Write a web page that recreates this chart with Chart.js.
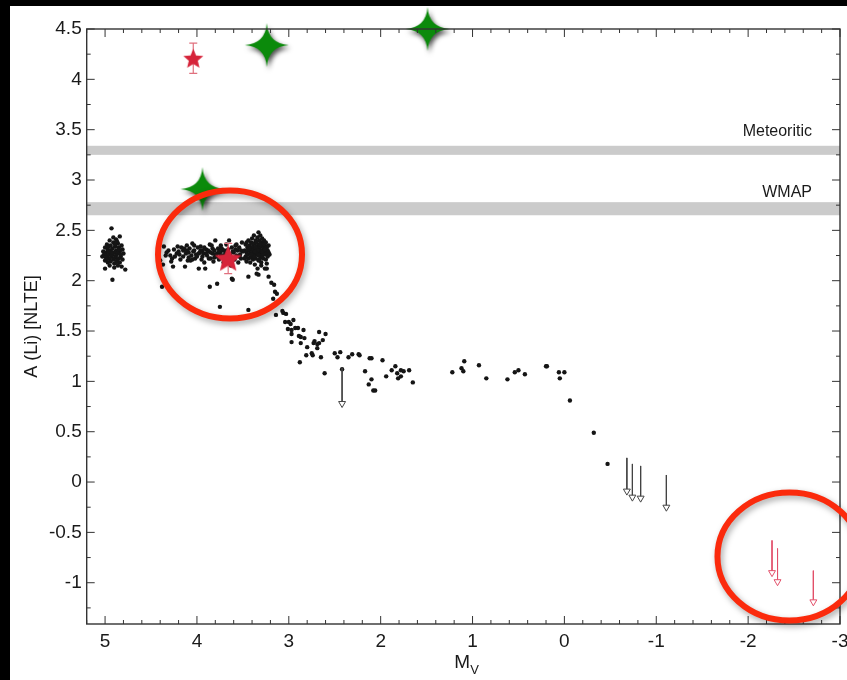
<!DOCTYPE html>
<html>
<head>
<meta charset="utf-8">
<script src="https://cdn.jsdelivr.net/npm/chart.js@4.4.0/dist/chart.umd.min.js"></script>
<style>
  html, body { margin: 0; padding: 0; background: #000; overflow: hidden; }
  #wrap { position: absolute; left: 10px; top: 6px; width: 837px; height: 674px; background: #fff; }
</style>
</head>
<body>
<div id="wrap"><canvas id="myChart" width="837" height="674"></canvas></div>
<script>
// ---- data : [Mv, A(Li)] ----
const dwarfs = [
  [4.93,2.52],[4.84,2.44],[4.88,2.41],[4.95,2.40],[4.91,2.38],[4.86,2.37],[4.98,2.36],[4.82,2.35],[4.94,2.35],[4.89,2.34],
  [5.00,2.33],[4.85,2.33],[4.92,2.32],[4.97,2.31],[4.81,2.31],[4.88,2.30],[4.94,2.30],[5.02,2.29],[4.84,2.29],[4.90,2.28],
  [4.99,2.28],[4.86,2.27],[4.95,2.27],[4.80,2.27],[4.92,2.26],[5.01,2.26],[4.88,2.25],[4.97,2.25],[4.83,2.24],[4.93,2.24],
  [4.89,2.23],[4.99,2.23],[4.85,2.22],[4.95,2.22],[4.91,2.21],[4.81,2.21],[5.00,2.20],[4.87,2.20],[4.94,2.19],[4.84,2.18],
  [4.97,2.18],[4.90,2.17],[4.86,2.15],[4.95,2.15],[4.82,2.14],[5.00,2.12],[4.78,2.11],[4.90,2.13],[4.92,2.01],[4.96,2.34],
  [4.87,2.39],[4.91,2.43],[4.83,2.26],[4.93,2.28],[4.98,2.21],[4.88,2.18],[5.03,2.24],[4.85,2.31],[4.89,2.36],[4.96,2.29]
];
const turnoff = [
  [4.42,2.27],[4.40,2.20],[4.38,1.94],[4.37,2.16],[4.36,2.34],[4.34,2.25],[4.31,2.30],[4.29,2.25],[4.28,2.19],[4.25,2.31],
  [4.24,2.24],[4.26,2.14],[4.22,2.27],[4.20,2.29],[4.18,2.21],[4.17,2.33],[4.15,2.30],[4.15,2.24],[4.13,2.14],[4.12,2.27],
  [4.11,2.35],[4.10,2.20],[4.09,2.28],[4.08,2.32],[4.07,2.20],[4.06,2.25],[4.05,2.37],[4.04,2.29],[4.03,2.30],[4.02,2.22],
  [4.01,2.26],[4.00,2.24],[3.99,2.33],[3.98,2.12],[3.97,2.28],[3.96,2.34],[3.95,2.21],[3.94,2.30],[3.93,2.27],[3.92,2.18],
  [3.91,2.12],[3.90,2.31],[3.89,2.25],[3.88,2.30],[3.87,2.22],[3.86,1.94],[3.86,2.36],[3.85,2.22],[3.84,2.35],[3.83,2.27],
  [3.82,2.19],[3.81,2.30],[3.80,2.40],[3.79,2.24],[3.78,2.27],[3.78,1.97],[3.77,2.32],[3.76,2.21],[3.75,1.74],[3.75,2.28],
  [3.74,2.35],[3.73,2.32],[3.72,2.25],[3.71,2.18],[3.70,2.30],[3.69,2.27],[3.68,2.36],[3.67,2.22],[3.66,2.31],[3.65,2.40],
  [3.64,2.26],[3.63,2.15],[3.62,2.02],[3.62,2.33],[3.61,2.01],[3.60,2.28],[3.59,2.21],[3.58,2.35],[3.57,2.25],[3.56,2.30],
  [3.55,2.18],[3.54,2.33],[3.53,2.26],[3.52,2.22],[3.51,2.38],[3.50,2.29],[4.33,2.28],[4.19,2.26],[4.14,2.32],[4.09,2.23],
  [4.03,2.35],[3.98,2.27],[3.94,2.24],[3.90,2.27],[3.87,2.29],[3.83,2.32],[3.80,2.26],[3.76,2.29],[3.72,2.30],[3.68,2.24],
  [3.66,2.20],[3.58,2.31],[3.54,2.24],[3.52,2.30],[4.27,2.22],[4.21,2.34],[4.11,2.30],[4.05,2.21],[3.96,2.30],[3.92,2.33],
  [3.85,2.28],[3.81,2.23],[3.74,2.25],[3.70,2.22],[3.61,2.29],[3.57,2.36],
  [3.48,2.30],[3.47,2.24],[3.47,2.36],[3.46,2.28],[3.46,2.19],[3.45,2.33],[3.45,2.26],[3.44,2.40],[3.44,2.22],[3.43,2.30],
  [3.43,2.35],[3.42,2.27],[3.42,2.18],[3.41,2.32],[3.41,2.38],[3.40,2.24],[3.40,2.29],[3.40,2.42],[3.39,2.34],[3.39,2.21],
  [3.38,2.45],[3.38,2.27],[3.38,2.31],[3.37,2.37],[3.37,2.25],[3.37,2.16],[3.36,2.40],[3.36,2.30],[3.36,2.22],[3.35,2.34],
  [3.35,2.28],[3.35,2.07],[3.34,2.43],[3.34,2.26],[3.34,2.12],[3.33,2.48],[3.33,2.36],[3.33,2.31],[3.33,2.20],[3.32,2.40],
  [3.32,2.27],[3.32,2.33],[3.31,2.45],[3.31,2.24],[3.31,2.30],[3.30,2.38],[3.30,2.28],[3.30,2.18],[3.29,2.42],[3.29,2.34],
  [3.29,2.25],[3.28,2.31],[3.28,2.37],[3.28,2.22],[3.27,2.40],[3.27,2.28],[3.27,2.33],[3.26,2.26],[3.26,2.35],[3.26,2.12],
  [3.25,2.30],[3.25,2.21],[3.25,2.38],[3.24,2.27],[3.24,2.33],[3.23,2.24],[3.23,2.30],[3.22,2.28],[3.22,2.35],[3.21,2.26],
  [3.24,2.17],[3.30,2.15],[3.39,2.37],[3.42,2.23],[3.35,2.39],[3.31,2.36],[3.28,2.27],[3.36,2.33],[3.44,2.31],[3.32,2.21],
  [3.38,2.24],[3.27,2.36],[3.34,2.30],[3.41,2.26],[3.29,2.29],[3.37,2.29],[3.33,2.25],[3.26,2.31],[3.46,2.38],[3.48,2.22],
  [3.33,2.06],[3.24,2.12],[3.44,2.04],[3.44,1.71]
];
const giants = [
  [3.22,2.04],[3.19,1.98],[3.16,1.96],[3.15,1.89],[3.13,1.87],[3.17,1.82],[3.07,1.70],[3.06,1.68],[3.14,1.66],[3.03,1.67],
  [3.04,1.59],[3.00,1.59],[2.98,1.57],[2.95,1.61],[3.01,1.52],[2.97,1.51],[2.93,1.53],[2.90,1.53],[2.84,1.51],[2.97,1.47],
  [2.89,1.45],[2.87,1.44],[2.83,1.43],[2.67,1.49],[2.60,1.47],[2.97,1.39],[2.87,1.38],[2.72,1.40],[2.73,1.38],[2.69,1.37],
  [2.67,1.38],[2.63,1.41],[2.80,1.34],[2.69,1.33],[2.75,1.28],[2.74,1.26],[2.81,1.26],[2.65,1.24],[2.88,1.19],[2.50,1.28],
  [2.44,1.29],[2.47,1.24],[2.61,1.08],[2.35,1.24],[2.31,1.27],[2.24,1.27],[2.23,1.26],[2.12,1.23],[2.10,1.23],[1.98,1.21],
  [2.42,1.12],[2.17,1.10],[2.10,1.02],[2.13,0.97],[2.08,0.91],[2.06,0.91],[1.94,1.05],[1.88,1.11],[1.84,1.15],[1.82,1.08],
  [1.78,1.11],[1.78,1.05],[1.81,1.03],[1.75,1.10],[1.69,1.11],[1.65,0.99],[1.22,1.09],[1.12,1.13],[1.09,1.20],[1.10,1.10],
  [0.93,1.16],[0.85,1.03],[0.62,1.02],[0.54,1.09],[0.50,1.11],[0.43,1.07],[0.20,1.15],[0.19,1.15],[0.06,1.09],[0.00,1.09],
  [0.05,1.03],[-0.06,0.81],[-0.32,0.49],[-0.47,0.18]
];

// upper limits: Mv, top of arrow, arrow tip
const limMv    = [2.42, -0.68, -0.74, -0.83, -1.11];
const limTop   = [1.13,  0.24,  0.18,  0.16,  0.07];
const limTip   = [0.78, -0.09, -0.15, -0.16, -0.25];
const redLimMv  = [-2.26, -2.32, -2.71];
const redLimTop = [-0.58, -0.66, -0.88];
const redLimTip = [-0.90, -0.99, -1.19];

// highlighted stars
const greenMv = [3.24, 1.49, 3.94];
const greenLi = [4.34, 4.50, 2.91];
const redMv  = [4.04, 3.66];
const redLi  = [4.21, 2.22];
const redErr = [0.15, 0.15];

// reference bands
const bandNames = ['Meteoritic', 'WMAP'];
const bandLo    = [3.25, 2.65];
const bandHi    = [3.34, 2.78];
const bandLabel = [3.48, 2.88];

// annotation rings (centre in data units)
const ringMv = [3.64, -2.45];
const ringLi = [2.26, -0.74];

const xTicks = [5, 4, 3, 2, 1, 0, -1, -2, -3];
const yTicks = [4.5, 4, 3.5, 3, 2.5, 2, 1.5, 1, 0.5, 0, -0.5, -1];

// ---- point images ----
function fourStar(r, color) {
  const s = 2 * (r + 8), m = r + 8;
  const c = document.createElement('canvas');
  c.width = s; c.height = s;
  const g = c.getContext('2d');
  g.shadowColor = 'rgba(0,0,0,0.7)'; g.shadowBlur = 5; g.shadowOffsetX = 2; g.shadowOffsetY = 3;
  g.fillStyle = color;
  const k = 1.5;
  g.beginPath();
  g.moveTo(m, m - r);
  g.quadraticCurveTo(m + k, m - k, m + r, m);
  g.quadraticCurveTo(m + k, m + k, m, m + r);
  g.quadraticCurveTo(m - k, m + k, m - r, m);
  g.quadraticCurveTo(m - k, m - k, m, m - r);
  g.fill();
  return c;
}
function fiveStar(r, color) {
  const s = Math.ceil(2 * r + 4), m = s / 2;
  const c = document.createElement('canvas');
  c.width = s; c.height = s;
  const g = c.getContext('2d');
  g.fillStyle = color;
  g.beginPath();
  for (let i = 0; i < 10; i++) {
    const rr = i % 2 ? r * 0.45 : r;
    const a = -Math.PI / 2 + i * Math.PI / 5;
    g.lineTo(m + rr * Math.cos(a), m + 1 + rr * Math.sin(a));
  }
  g.closePath();
  g.fill();
  return c;
}
const greenImg = fourStar(22, '#0b8a0b');
const redSmall = fiveStar(10.5, '#d6243a');
const redBig = fiveStar(14, '#d6243a');

const toXY = arr => arr.map(p => ({x: p[0], y: p[1]}));

const datasets = [];
datasets.push({
  label: 'green', data: greenMv.map((v, i) => ({x: v, y: greenLi[i]})),
  pointStyle: greenImg, clip: false, order: 0
});
datasets.push({
  label: 'red', data: redMv.map((v, i) => ({x: v, y: redLi[i]})),
  pointStyle: [redSmall, redBig], clip: false, order: 1
});
redMv.forEach((v, i) => datasets.push({
  label: 'err' + i, showLine: true, order: 2,
  data: [{x: v, y: redLi[i] - redErr[i]}, {x: v, y: redLi[i] + redErr[i]}],
  borderColor: '#e0707e', borderWidth: 1.2, pointStyle: 'line', pointRadius: 4,
  pointBorderColor: '#e0707e', pointBorderWidth: 1.2
}));
limMv.forEach((v, i) => datasets.push({
  label: 'lim' + i, showLine: true, order: 3,
  data: [{x: v, y: limTop[i]}, {x: v, y: limTip[i]}],
  borderColor: '#444', borderWidth: 1, pointStyle: 'triangle', pointRotation: 180,
  pointRadius: [0, 4], pointBackgroundColor: '#fff', pointBorderColor: '#444', pointBorderWidth: 1
}));
redLimMv.forEach((v, i) => datasets.push({
  label: 'rlim' + i, showLine: true, order: 3,
  data: [{x: v, y: redLimTop[i]}, {x: v, y: redLimTip[i]}],
  borderColor: '#e2506a', borderWidth: 1, pointStyle: 'triangle', pointRotation: 180,
  pointRadius: [0, 4], pointBackgroundColor: '#fff', pointBorderColor: '#e2506a', pointBorderWidth: 1
}));
[dwarfs, turnoff, giants].forEach((d, i) => datasets.push({
  label: 'stars' + i, data: toXY(d), order: 4,
  pointRadius: 2.2, pointBackgroundColor: '#151515', pointBorderWidth: 0
}));

const FONT = '"Liberation Sans", Arial, Helvetica, sans-serif';

const decor = {
  id: 'decor',
  beforeDatasetsDraw(chart) {
    const {ctx, chartArea: a, scales: {y}} = chart;
    ctx.save();
    ctx.fillStyle = '#cbcbcb';
    bandNames.forEach((n, i) => {
      const y1 = y.getPixelForValue(bandHi[i]), y2 = y.getPixelForValue(bandLo[i]);
      ctx.fillRect(a.left, y1, a.right - a.left, y2 - y1);
    });
    ctx.fillStyle = '#1a1a1a';
    ctx.font = '16px ' + FONT;
    ctx.textAlign = 'right'; ctx.textBaseline = 'middle';
    bandNames.forEach((n, i) => ctx.fillText(n, a.right - 28, y.getPixelForValue(bandLabel[i])));
    ctx.restore();
  },
  afterDraw(chart) {
    const {ctx, chartArea: a, scales: {x, y}} = chart;
    ctx.save();
    // frame + inward ticks on all four sides
    ctx.strokeStyle = '#333'; ctx.lineWidth = 1.4;
    ctx.strokeRect(a.left, a.top, a.right - a.left, a.bottom - a.top);
    ctx.lineWidth = 1;
    ctx.beginPath();
    for (let i = -15; i <= 26; i++) {
      const px = x.getPixelForValue(i / 5), len = i % 5 === 0 ? 8 : 4;
      ctx.moveTo(px, a.bottom); ctx.lineTo(px, a.bottom - len);
      ctx.moveTo(px, a.top); ctx.lineTo(px, a.top + len);
    }
    for (let i = -5; i <= 18; i++) {
      const py = y.getPixelForValue(i / 4), len = i % 2 === 0 ? 8 : 4;
      ctx.moveTo(a.left, py); ctx.lineTo(a.left + len, py);
      ctx.moveTo(a.right, py); ctx.lineTo(a.right - len, py);
    }
    ctx.stroke();
    // axis titles
    ctx.fillStyle = '#1a1a1a';
    ctx.textBaseline = 'middle';
    ctx.font = '18px ' + FONT;
    ctx.save();
    ctx.translate(22, (a.top + a.bottom) / 2);
    ctx.rotate(-Math.PI / 2);
    ctx.textAlign = 'center';
    ctx.fillText('A (Li) [NLTE]', 0, 0);
    ctx.restore();
    const cx = (a.left + a.right) / 2;
    ctx.textAlign = 'left';
    ctx.font = '19px ' + FONT;
    ctx.fillText('M', cx - 9, 657);
    ctx.font = '13px ' + FONT;
    ctx.fillText('V', cx + 7, 664);
    // annotation rings
    ctx.shadowColor = 'rgba(0,0,0,0.35)'; ctx.shadowBlur = 6; ctx.shadowOffsetX = 2; ctx.shadowOffsetY = 3;
    ctx.strokeStyle = '#fb2a0c'; ctx.lineWidth = 6;
    ringMv.forEach((v, i) => {
      ctx.beginPath();
      ctx.ellipse(x.getPixelForValue(v), y.getPixelForValue(ringLi[i]), 72, 64, 0, 0, 2 * Math.PI);
      ctx.stroke();
    });
    ctx.restore();
  }
};

const noPad = s => { s.paddingLeft = 0; s.paddingRight = 0; s.paddingTop = 0; s.paddingBottom = 0; };

const ctx = document.getElementById('myChart').getContext('2d');
const myChart = new Chart(ctx, {
  type: 'scatter',
  data: { datasets: datasets },
  options: {
    responsive: false,
    animation: false,
    events: [],
    layout: { padding: { top: 23, right: 7, left: 0, bottom: 0 } },
    plugins: { legend: { display: false }, tooltip: { enabled: false } },
    scales: {
      x: {
        type: 'linear', reverse: true, min: -3, max: 5.2,
        grid: { display: false, drawTicks: false, tickLength: 0 }, border: { display: false },
        afterFit: s => { s.height = 56; noPad(s); },
        afterBuildTicks: s => { s.ticks = xTicks.map(v => ({value: v})); },
        ticks: { font: { size: 19, family: FONT }, color: '#1a1a1a', padding: 6, maxRotation: 0,
                 autoSkip: false, callback: v => String(v) }
      },
      y: {
        type: 'linear', min: -1.41, max: 4.5,
        grid: { display: false, drawTicks: false, tickLength: 0 }, border: { display: false },
        afterFit: s => { s.width = 76.7; noPad(s); },
        afterBuildTicks: s => { s.ticks = yTicks.map(v => ({value: v})); },
        ticks: { font: { size: 19, family: FONT }, color: '#1a1a1a', padding: 5,
                 autoSkip: false, callback: v => String(v) }
      }
    }
  },
  plugins: [decor]
});
</script>
</body>
</html>
